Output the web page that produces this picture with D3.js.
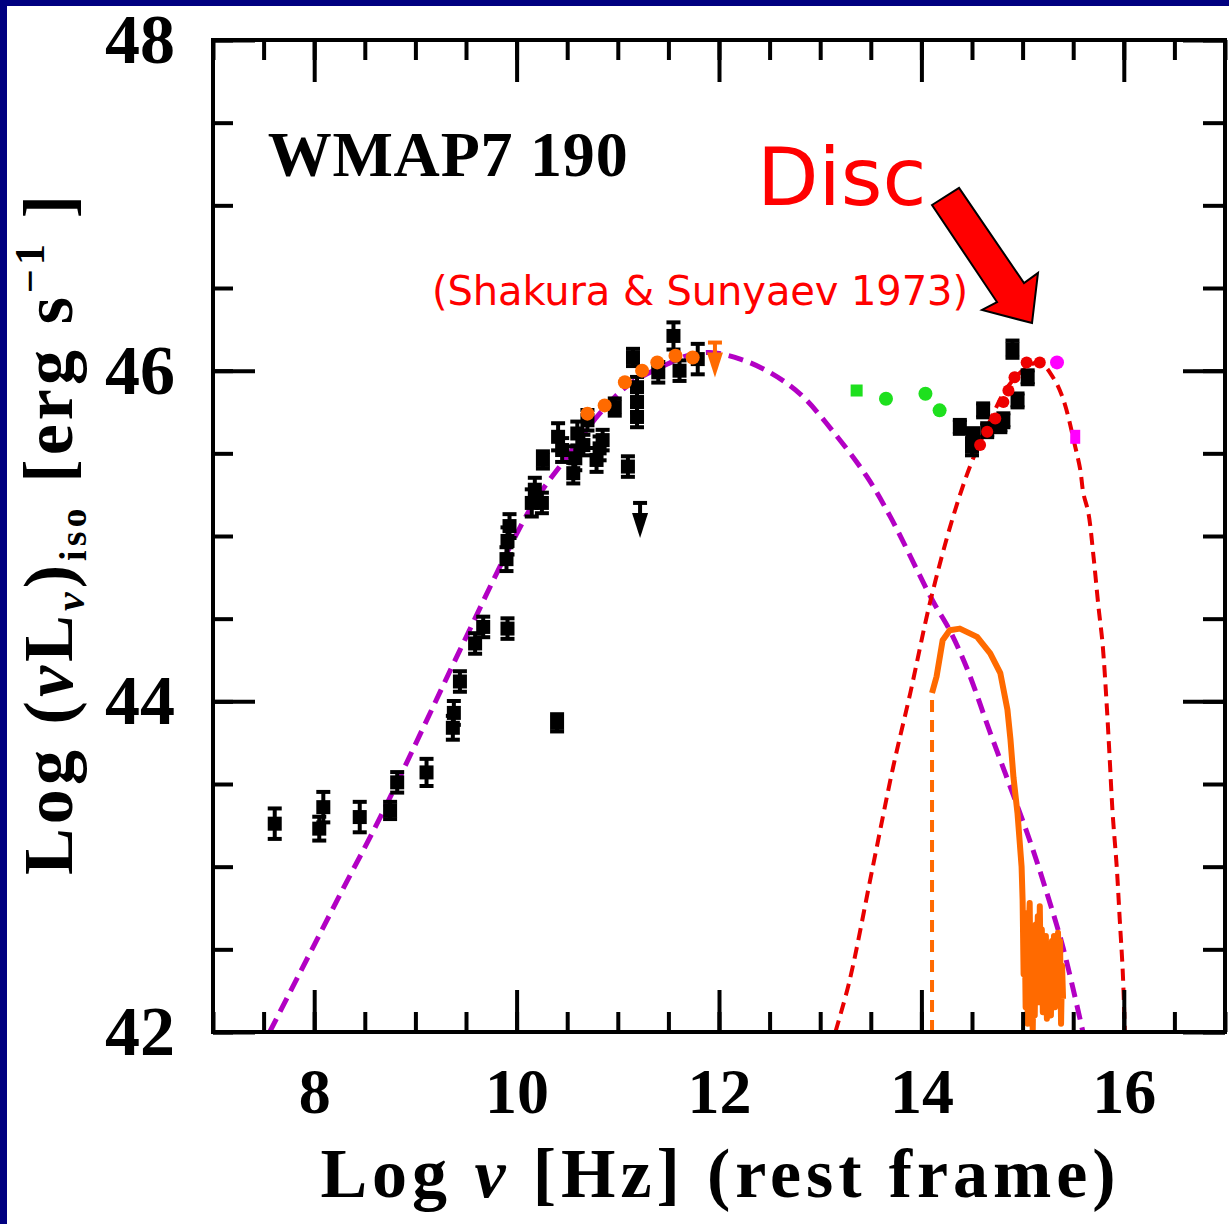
<!DOCTYPE html>
<html>
<head>
<meta charset="utf-8">
<script src="https://cdn.jsdelivr.net/npm/d3@7"></script>
<style>
  body { margin: 0; background: #fff; }
  svg { display: block; }
</style>
</head>
<body>
<div id="chart"></div>
<script>
// ---- data ----
// black photometric points: log nu, log nuL, error
const blackX = [7.61, 8.05, 8.09, 8.45, 8.75, 8.82, 9.11, 9.37, 9.38, 9.44, 9.59, 9.67, 9.91, 9.90, 9.91, 9.93,
  10.15, 10.18, 10.25, 10.26, 10.40, 10.41, 10.45, 10.56, 10.58, 10.60, 10.66, 10.70, 10.79, 10.82, 10.85,
  10.97, 11.10, 11.15, 11.19, 11.19, 11.19, 11.40, 11.55, 11.61, 11.79,
  14.38, 14.50, 14.51, 14.61, 14.65, 14.78, 14.81, 14.90, 14.95, 15.05];
const blackY = [43.26, 43.23, 43.36, 43.30, 43.34, 43.51, 43.57, 43.84, 43.93, 44.12, 44.35, 44.45, 44.44, 44.86, 44.97, 45.06,
  45.20, 45.28, 45.20, 45.46, 43.87, 45.60, 45.52, 45.38, 45.47, 45.62, 45.55, 45.70, 45.46, 45.53, 45.58,
  45.78, 45.42, 46.08, 45.72, 45.81, 45.90, 45.99, 46.21, 46.00, 46.07,
  45.66, 45.54, 45.61, 45.76, 45.64, 45.67, 45.70, 46.13, 45.82, 45.96];
const blackErr = [0.08, 0.06, 0.08, 0.08, 0.04, 0.05, 0.07, 0.06, 0.06, 0.05, 0.05, 0.05, 0.05, 0.06, 0.07, 0.06,
  0.07, 0.06, 0.05, 0.04, 0.04, 0.07, 0.06, 0.05, 0.06, 0.06, 0.05, 0.05, 0.06, 0.06, 0.05,
  0.04, 0.05, 0.04, 0.05, 0.05, 0.05, 0.05, 0.07, 0.05, 0.08,
  0.03, 0.04, 0.03, 0.03, 0.03, 0.03, 0.03, 0.04, 0.03, 0.03];

// upper limits (value at the cap)
const limitX = [11.22, 11.96];
const limitY = [45.20, 46.17];
const limitColor = ["#000", "#ff6a00"];

// orange (Planck) points
const planckX = [10.70, 10.87, 11.07, 11.24, 11.39, 11.57, 11.74];
const planckY = [45.74, 45.79, 45.93, 46.00, 46.05, 46.09, 46.08];

// green (WISE) points
const wiseX = [13.36, 13.65, 14.04, 14.18];
const wiseY = [45.88, 45.83, 45.86, 45.76];

// red optical points
const optX = [14.58, 14.65, 14.73, 14.81, 14.86, 14.92, 15.04, 15.17];
const optY = [45.55, 45.63, 45.71, 45.81, 45.88, 45.96, 46.05, 46.05];

// magenta UV points
const uvX = [15.34, 15.52];
const uvY = [46.05, 45.60];

// synchrotron model (purple dashed)
const synX = [7.56, 8.28, 8.67, 9.44, 9.93, 10.20, 10.50, 10.82, 11.12, 11.49, 11.68, 11.91, 12.21, 12.50, 12.80,
  13.13, 13.46, 13.69, 14.11, 14.28, 14.45, 14.68, 14.88, 15.07, 15.24, 15.40, 15.60];
const synY = [42.00, 42.86, 43.32, 44.31, 44.93, 45.23, 45.48, 45.74, 45.92, 46.04, 46.09, 46.11, 46.07, 45.99, 45.86,
  45.63, 45.36, 45.12, 44.61, 44.43, 44.20, 43.81, 43.48, 43.16, 42.84, 42.51, 41.99];

// accretion disc model (red dashed)
const discX = [13.15, 13.29, 13.52, 13.72, 13.89, 14.09, 14.31, 14.48, 14.65, 14.85, 15.04, 15.17, 15.30, 15.40,
  15.52, 15.57, 15.60, 15.65, 15.70, 15.75, 15.79, 15.83, 15.86, 15.89, 15.93, 15.96, 15.99, 16.01];
const discY = [42.00, 42.31, 43.00, 43.60, 44.05, 44.61, 45.11, 45.42, 45.66, 45.90, 46.02, 46.05, 45.96, 45.83,
  45.54, 45.40, 45.26, 45.14, 44.88, 44.57, 44.35, 43.99, 43.66, 43.32, 43.00, 42.68, 42.36, 42.00];

// host galaxy template (orange)
const hostX = [14.105, 14.15, 14.21, 14.28, 14.38, 14.55, 14.68, 14.78, 14.85, 14.88, 14.91, 14.95, 14.99,
  15.00, 15.01, 15.02, 15.03, 15.04, 15.05, 15.06, 15.07, 15.08, 15.09, 15.10, 15.11, 15.12, 15.13, 15.14,
  15.15, 15.16, 15.17, 15.18, 15.19, 15.20, 15.21, 15.22, 15.23, 15.24, 15.25, 15.26, 15.27, 15.28, 15.29,
  15.30, 15.31, 15.32, 15.33, 15.34, 15.35, 15.36, 15.37, 15.38, 15.39, 15.40];
const hostY = [44.05, 44.15, 44.37, 44.43, 44.44, 44.39, 44.29, 44.17, 43.95, 43.77, 43.54, 43.32, 43.00,
  42.80, 42.35, 42.70, 42.15, 42.72, 42.05, 42.60, 42.78, 42.20, 42.55, 42.00, 42.45, 42.10, 42.65, 42.25,
  42.70, 42.18, 42.76, 42.30, 42.62, 42.12, 42.50, 42.20, 42.58, 42.08, 42.52, 42.25, 42.45, 42.10, 42.55,
  42.22, 42.58, 42.15, 42.48, 42.30, 42.60, 42.20, 42.55, 42.05, 42.40, 42.20];

const xTicksMajor = [8, 10, 12, 14, 16];
const yTicksMajor = [42, 44, 46, 48];

// ---- layout ----
const W = 1229, H = 1224;
const svg = d3.select('#chart').append('svg')
  .attr('width', W)
  .attr('height', H);

svg.append('rect').attr('width', W).attr('height', H).attr('fill', '#000080');
svg.append('rect').attr('x', 7).attr('y', 6).attr('width', W - 7).attr('height', H - 6).attr('fill', '#fff');

const x = d3.scaleLinear().domain([7, 17]).range([213, 1225]);
const y = d3.scaleLinear().domain([42, 48]).range([1032, 40]);

const serif = '"Liberation Serif", "DejaVu Serif", serif';
const sans = '"DejaVu Sans", "Liberation Sans", sans-serif';

const plot = svg.append('g');
svg.append('clipPath').attr('id', 'clip')
  .append('rect').attr('x', 213).attr('y', 40).attr('width', 1012).attr('height', 992);
const g = plot.append('g').attr('clip-path', 'url(#clip)');

// models
const line = d3.line().x(d => x(d[0])).y(d => y(d[1])).curve(d3.curveCatmullRom);

g.append('path')
  .attr('d', line(synX.map((v, i) => [v, synY[i]])))
  .attr('fill', 'none')
  .attr('stroke', '#b300c4')
  .attr('stroke-width', 5)
  .attr('stroke-dasharray', '15 8');

g.append('path')
  .attr('d', line(discX.map((v, i) => [v, discY[i]])))
  .attr('fill', 'none')
  .attr('stroke', '#e80000')
  .attr('stroke-width', 4)
  .attr('stroke-dasharray', '12 7');

// host template: dashed rise then solid spectrum
g.append('line')
  .attr('x1', x(hostX[0])).attr('x2', x(hostX[0]))
  .attr('y1', y(42)).attr('y2', y(hostY[0]))
  .attr('stroke', '#ff6a00')
  .attr('stroke-width', 4)
  .attr('stroke-dasharray', '12 8');

g.append('path')
  .attr('d', d3.line().x(d => x(d[0])).y(d => y(d[1]))(hostX.map((v, i) => [v, hostY[i]])))
  .attr('fill', 'none')
  .attr('stroke', '#ff6a00')
  .attr('stroke-width', 6)
  .attr('stroke-linejoin', 'round');

// black points with error bars
const pts = blackX.map((v, i) => ({ x: v, y: blackY[i], e: blackErr[i] }));
const pg = g.append('g').selectAll('g').data(pts).join('g');
pg.append('line')
  .attr('x1', d => x(d.x)).attr('x2', d => x(d.x))
  .attr('y1', d => y(d.y - d.e) + 3).attr('y2', d => y(d.y + d.e) - 3)
  .attr('stroke', '#000').attr('stroke-width', 4);
pg.append('line')
  .attr('x1', d => x(d.x) - 7).attr('x2', d => x(d.x) + 7)
  .attr('y1', d => y(d.y - d.e) + 2).attr('y2', d => y(d.y - d.e) + 2)
  .attr('stroke', '#000').attr('stroke-width', 4);
pg.append('line')
  .attr('x1', d => x(d.x) - 7).attr('x2', d => x(d.x) + 7)
  .attr('y1', d => y(d.y + d.e) - 2).attr('y2', d => y(d.y + d.e) - 2)
  .attr('stroke', '#000').attr('stroke-width', 4);
pg.append('rect')
  .attr('x', d => x(d.x) - 7).attr('y', d => y(d.y) - 7)
  .attr('width', 14).attr('height', 14)
  .attr('fill', '#000');

// upper limits (down-pointing)
limitX.forEach((v, i) => {
  const cx = x(v), cy = y(limitY[i]);
  g.append('line').attr('x1', cx).attr('x2', cx).attr('y1', cy).attr('y2', cy + 14)
    .attr('stroke', limitColor[i]).attr('stroke-width', 4);
  g.append('line').attr('x1', cx - 7).attr('x2', cx + 7).attr('y1', cy).attr('y2', cy)
    .attr('stroke', limitColor[i]).attr('stroke-width', 4);
  g.append('path')
    .attr('d', `M${cx - 8},${cy + 10}L${cx + 8},${cy + 10}L${cx},${cy + 35}Z`)
    .attr('fill', limitColor[i]);
});

// coloured points
const dots = (xs, ys, color, r) => g.append('g').selectAll('circle')
  .data(xs.map((v, i) => [v, ys[i]]))
  .join('circle')
  .attr('cx', d => x(d[0])).attr('cy', d => y(d[1]))
  .attr('r', r).attr('fill', color);

dots(planckX, planckY, '#ff6a00', 7);
dots(wiseX.slice(1), wiseY.slice(1), '#1ee01e', 7);
g.append('rect')
  .attr('x', x(wiseX[0]) - 6).attr('y', y(wiseY[0]) - 6)
  .attr('width', 12).attr('height', 12).attr('fill', '#1ee01e');
dots(optX, optY, '#ee0000', 6);
dots(uvX.slice(0, 1), uvY.slice(0, 1), '#ff00ff', 7);
g.append('rect')
  .attr('x', x(uvX[1]) - 5).attr('y', y(uvY[1]) - 7)
  .attr('width', 10).attr('height', 14).attr('fill', '#ff00ff');

// ---- axes (ticks inward on all four sides) ----
const half = d3.range(7, 17.01, 0.5);
const halfY = d3.range(42, 48.01, 0.5);
const styleAxis = sel => {
  sel.select('.domain').remove();
  sel.selectAll('line').attr('stroke', '#000').attr('stroke-width', 4);
};

plot.append('g').attr('transform', 'translate(0,1032)')
  .call(d3.axisBottom(x).tickValues(half).tickSize(-20).tickFormat('')).call(styleAxis);
plot.append('g').attr('transform', 'translate(0,1032)')
  .call(d3.axisBottom(x).tickValues(xTicksMajor).tickSize(-42).tickFormat('')).call(styleAxis);
plot.append('g').attr('transform', 'translate(0,40)')
  .call(d3.axisTop(x).tickValues(half).tickSize(-20).tickFormat('')).call(styleAxis);
plot.append('g').attr('transform', 'translate(0,40)')
  .call(d3.axisTop(x).tickValues(xTicksMajor).tickSize(-42).tickFormat('')).call(styleAxis);
plot.append('g').attr('transform', 'translate(213,0)')
  .call(d3.axisLeft(y).tickValues(halfY).tickSize(-20).tickFormat('')).call(styleAxis);
plot.append('g').attr('transform', 'translate(213,0)')
  .call(d3.axisLeft(y).tickValues(yTicksMajor).tickSize(-42).tickFormat('')).call(styleAxis);
plot.append('g').attr('transform', 'translate(1225,0)')
  .call(d3.axisRight(y).tickValues(halfY).tickSize(-22).tickFormat('')).call(styleAxis);
plot.append('g').attr('transform', 'translate(1225,0)')
  .call(d3.axisRight(y).tickValues(yTicksMajor).tickSize(-42).tickFormat('')).call(styleAxis);

plot.append('rect')
  .attr('x', 213).attr('y', 40).attr('width', 1012).attr('height', 992)
  .attr('fill', 'none').attr('stroke', '#000').attr('stroke-width', 4);

// tick labels
const xl = plot.append('g').attr('transform', 'translate(0,1032)')
  .call(d3.axisBottom(x).tickValues(xTicksMajor).tickSize(0).tickPadding(36).tickFormat(d3.format('d')));
xl.select('.domain').remove();
xl.selectAll('text').attr('font-family', serif).attr('font-weight', 'bold').attr('font-size', 64).attr('fill', '#000');

const yl = plot.append('g').attr('transform', 'translate(213,0)')
  .call(d3.axisLeft(y).tickValues(yTicksMajor).tickSize(0).tickPadding(38).tickFormat(d3.format('d')));
yl.select('.domain').remove();
yl.selectAll('text').attr('font-family', serif).attr('font-weight', 'bold').attr('font-size', 70).attr('fill', '#000');

// axis titles
const xt = svg.append('text')
  .attr('x', 718).attr('y', 1197)
  .attr('text-anchor', 'middle')
  .attr('font-family', serif).attr('font-weight', 'bold').attr('font-size', 70)
  .attr('textLength', 795).attr('lengthAdjust', 'spacing');
xt.append('tspan').text('Log ');
xt.append('tspan').attr('font-style', 'italic').text('ν');
xt.append('tspan').text(' [Hz] (rest frame)');

const yt = svg.append('text')
  .attr('transform', 'translate(72,535) rotate(-90)')
  .attr('text-anchor', 'middle')
  .attr('font-family', serif).attr('font-weight', 'bold').attr('font-size', 70)
  .attr('textLength', 680).attr('lengthAdjust', 'spacing');
yt.append('tspan').text('Log (');
yt.append('tspan').attr('font-style', 'italic').text('ν');
yt.append('tspan').text('L');
yt.append('tspan').attr('font-style', 'italic').attr('font-size', 42).attr('dy', 12).text('ν');
yt.append('tspan').attr('dy', -12).text(')');
yt.append('tspan').attr('font-size', 38).attr('dy', 14).text('iso');
yt.append('tspan').attr('dy', -14).text(' [erg s');
yt.append('tspan').attr('font-size', 42).attr('dy', -28).text('−1');
yt.append('tspan').attr('dy', 28).text(' ]');

// annotations
svg.append('text')
  .attr('x', x(7.54)).attr('y', y(47.18))
  .attr('font-family', serif).attr('font-weight', 'bold').attr('font-size', 64)
  .attr('textLength', 360).attr('lengthAdjust', 'spacing')
  .text('WMAP7 190');

svg.append('text')
  .attr('x', x(12.375)).attr('y', y(47.0))
  .attr('font-family', sans).attr('font-size', 80).attr('fill', '#ff0000')
  .text('Disc');

svg.append('text')
  .attr('x', x(9.164)).attr('y', y(46.40))
  .attr('font-family', sans).attr('font-size', 40).attr('fill', '#ff0000')
  .attr('textLength', 536).attr('lengthAdjust', 'spacing')
  .text('(Shakura & Sunyaev 1973)');

// arrow (data coords)
const arrowPts = [[14.105, 47.002], [14.372, 47.105], [15.014, 46.530], [15.152, 46.591],
  [15.093, 46.288], [14.599, 46.367], [14.747, 46.415]];
svg.append('path')
  .attr('d', d3.line().x(d => x(d[0])).y(d => y(d[1]))(arrowPts) + 'Z')
  .attr('fill', '#ff0000')
  .attr('stroke', '#000')
  .attr('stroke-width', 2)
  .attr('stroke-linejoin', 'miter');
</script>
</body>
</html>
